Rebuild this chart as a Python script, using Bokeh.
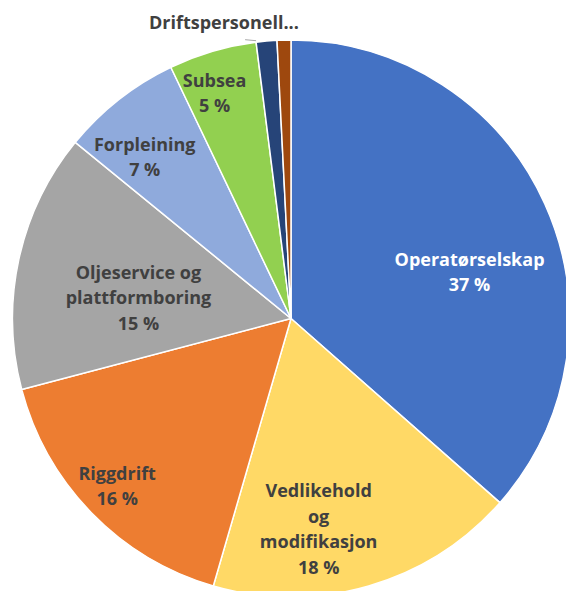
import math
from bokeh.plotting import figure
from bokeh.models import Range1d, ColumnDataSource
from bokeh.core.properties import value
from bokeh.embed import file_html
from bokeh.resources import INLINE

# ---- data ----
categories = ["Operatørselskap", "Vedlikehold og modifikasjon", "Riggdrift",
              "Oljeservice og plattformboring", "Forpleining", "Subsea",
              "Driftspersonell...", "Annet"]
shares = [36.5, 18.0, 16.4, 15.0, 7.0, 5.1, 1.2, 0.8]
label_lines = [["Operatørselskap", "37 %"],
               ["Vedlikehold", "og", "modifikasjon", "18 %"],
               ["Riggdrift", "16 %"],
               ["Oljeservice og", "plattformboring", "15 %"],
               ["Forpleining", "7 %"],
               ["Subsea", "5 %"],
               ["Driftspersonell..."],
               []]

# ---- styles / layout ----
colors = ["#4472C4", "#FFD966", "#ED7D31", "#A5A5A5", "#8FAADC", "#92D050", "#264478", "#9E480E"]
text_colors = ["#FFFFFF", "#404040", "#404040", "#404040", "#404040", "#404040", "#404040", "#404040"]
# label anchor: (angle offset from mid-angle in degrees clockwise, radius fraction)
label_pos = [(9.55, 0.663), (8.7, 0.760), (0.4, 0.866), (-4.4, 0.553), (-3.9, 0.784), (-2.3, 0.857),
             (-7.7, 1.093), None]
R = 278.5
line_h = 25.5
FONT = "Open Sans"
FSIZE = "18px"

p = figure(width=566, height=591, x_range=Range1d(-290.5, 275.5), y_range=Range1d(-273, 318),
           toolbar_location=None, output_backend="svg", x_axis_type=None, y_axis_type=None,
           min_border=0, outline_line_color=None)
p.grid.visible = False

total = sum(shares)
starts, ends, mids = [], [], []
cum = 0.0
for s in shares:
    a0 = cum / total * 360.0
    cum += s
    a1 = cum / total * 360.0
    starts.append(math.radians(90 - a1))
    ends.append(math.radians(90 - a0))
    mids.append((a0 + a1) / 2.0)

src = ColumnDataSource(dict(start=starts, end=ends, color=colors, cat=categories))
p.wedge(x=0, y=0, radius=R, start_angle="start", end_angle="end", fill_color="color",
        line_color="white", line_width=1.5, source=src)

# short leader line for the small slice label
cum_boundary = sum(shares[:6]) / total * 360.0
b = math.radians(90 - cum_boundary)
ex, ey = R * math.cos(b), R * math.sin(b)
p.segment(x0=[ex - 11], y0=[ey + 2.5], x1=[ex], y1=[ey + 1.5], line_color="#A6A6A6", line_width=1)

tx, ty, tt, tc = [], [], [], []
for i, lines in enumerate(label_lines):
    if not lines:
        continue
    off, rf = label_pos[i]
    ang = math.radians(90 - (mids[i] + off))
    cx, cy = rf * R * math.cos(ang), rf * R * math.sin(ang)
    n = len(lines)
    for k, t in enumerate(lines):
        tx.append(cx)
        ty.append(cy + ((n - 1) / 2.0 - k) * line_h)
        tt.append(t)
        tc.append(text_colors[i])

p.text(x=tx, y=ty, text=tt, text_color=tc, text_font=value(FONT), text_font_style="bold",
       text_font_size=FSIZE, text_align="center", text_baseline="middle")

open("out.html", "w").write(file_html(p, INLINE))
